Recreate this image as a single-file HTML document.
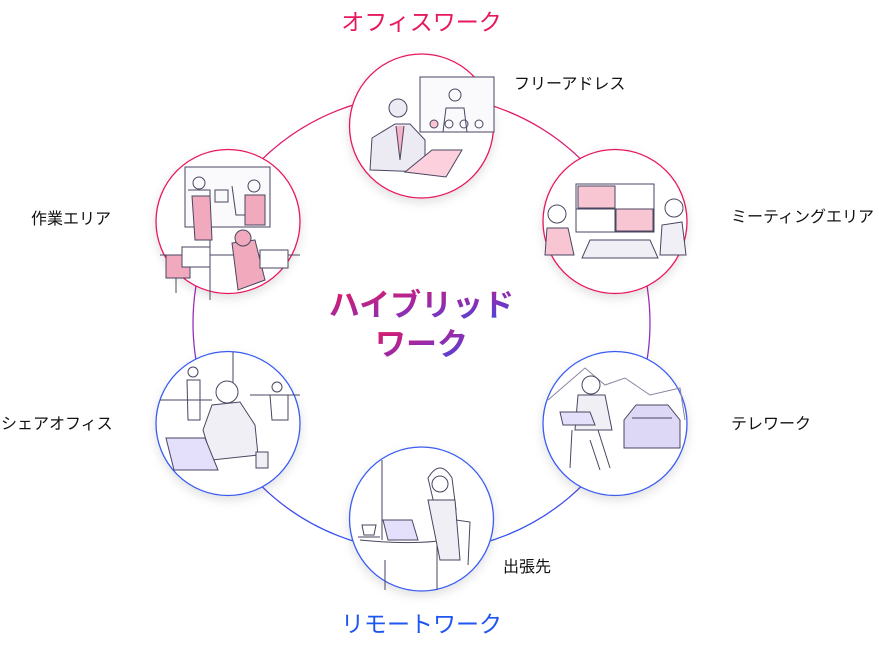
<!DOCTYPE html>
<html><head><meta charset="utf-8"><style>
html,body{margin:0;padding:0;background:#fff;}
body{width:879px;height:651px;position:relative;overflow:hidden;font-family:"Liberation Sans","Noto Sans CJK JP",sans-serif;}
.l{position:absolute;font-size:16px;color:#111;white-space:nowrap;line-height:1;}
</style></head><body>
<svg width="879" height="651" style="position:absolute;left:0;top:0">
<defs>
<linearGradient id="ring" x1="0" y1="0" x2="0" y2="1">
<stop offset="0" stop-color="#e8185f"/><stop offset="0.5" stop-color="#9a2fb8"/><stop offset="1" stop-color="#2a55f5"/>
</linearGradient>
<linearGradient id="tg" x1="0" y1="0" x2="1" y2="1">
<stop offset="0" stop-color="#e8185f"/><stop offset="0.5" stop-color="#9a2aa8"/><stop offset="1" stop-color="#3a4ae8"/>
</linearGradient>
<filter id="sh" x="-30%" y="-30%" width="160%" height="160%"><feDropShadow dx="0" dy="4" stdDeviation="5" flood-color="#000" flood-opacity="0.12"/></filter>
</defs>
<circle cx="421.5" cy="323" r="228.5" fill="none" stroke="url(#ring)" stroke-width="1.3"/>
<g stroke-width="1.3" filter="url(#sh)">
<circle cx="421.5" cy="126" r="72" fill="#fff" stroke="#e8185f"/>
<circle cx="228" cy="221.5" r="72" fill="#fff" stroke="#e8185f"/>
<circle cx="615" cy="221.5" r="72" fill="#fff" stroke="#e8185f"/>
<circle cx="228" cy="423.5" r="72" fill="#fff" stroke="#3a5cf2"/>
<circle cx="615" cy="423.5" r="72" fill="#fff" stroke="#3a5cf2"/>
<circle cx="421.5" cy="519" r="72" fill="#fff" stroke="#3a5cf2"/>
</g>
<g stroke="#4a4660" stroke-width="1" fill="none">
<rect x="420" y="77" width="74" height="55" fill="#fafafc"/>
<circle cx="455" cy="95" r="6"/><path d="M443 132 L446 108 L464 108 L467 132"/>
<circle cx="434" cy="124" r="4" fill="#f9c5d4"/><circle cx="449" cy="124" r="4"/><circle cx="464" cy="124" r="4"/><circle cx="479" cy="124" r="4"/>
<circle cx="398" cy="108" r="9" fill="#eceaf2"/>
<path d="M370 170 L372 138 L395 124 L410 124 L425 140 L425 172 Z" fill="#eceaf2"/>
<path d="M396 126 L400 160 L404 126" fill="#f6b3c6"/>
<path d="M405 172 L432 150 L462 150 L446 177 Z" fill="#fcd0dc"/>
<rect x="185" y="167" width="85" height="60" fill="#fafafc"/>
<path d="M188 190 L210 190 L210 300 M232 186 L236 215 L252 215" />
<path d="M192 196 L210 196 L212 240 L195 240 Z" fill="#f1a9bd"/>
<path d="M245 195 L265 195 L265 225 L245 225 Z" fill="#f1a9bd"/>
<circle cx="199" cy="183" r="6"/><circle cx="254" cy="186" r="6"/>
<rect x="215" y="190" width="13" height="12"/>
<path d="M160 255 L300 255 M176 260 L176 293"/>
<path d="M166 255 L190 255 L190 278 L166 278 Z" fill="#f1a9bd"/>
<path d="M232 243 L255 240 L265 280 L238 290 Z" fill="#f1a9bd"/>
<circle cx="243" cy="238" r="8" fill="#f1a9bd"/>
<rect x="182" y="247" width="28" height="20" fill="#fff"/><rect x="260" y="250" width="28" height="18" fill="#fff"/>
<rect x="576" y="184" width="78" height="48" fill="#fff"/>
<rect x="578" y="186" width="37" height="22" fill="#f8c5d3"/><rect x="616" y="209" width="37" height="22" fill="#f8c5d3"/>
<path d="M615 186 V232 M576 209 H654"/>
<circle cx="557" cy="214" r="9"/><path d="M545 255 L547 228 L568 228 L574 255 Z" fill="#f8c5d3"/>
<circle cx="674" cy="208" r="9"/><path d="M660 255 L662 225 L682 222 L686 255 Z" fill="#f1eff6"/>
<path d="M590 240 L650 240 L658 258 L582 258 Z" fill="#f1eff6"/>
<path d="M233 352 V400 M160 400 H212 M250 395 H300"/>
<circle cx="193" cy="372" r="5"/><path d="M187 380 L200 380 L200 420 L188 420 Z"/>
<circle cx="227" cy="392" r="11" fill="#fff"/>
<path d="M203 430 L212 405 L240 402 L255 425 L258 455 L212 460 Z" fill="#f0eff5"/>
<path d="M166 438 L205 438 L218 470 L174 470 Z" fill="#e4e0fb"/>
<rect x="256" y="452" width="12" height="16" fill="#f0eff5"/>
<circle cx="277" cy="387" r="5"/><path d="M270 395 H288 V420 H272 Z"/>
<path d="M548 400 L585 368 L605 385 L625 378 L650 395 L680 388 L685 420" stroke="#8a86a0"/>
<circle cx="591" cy="385" r="9" fill="#fff"/>
<path d="M578 395 L605 395 L612 430 L575 430 Z" fill="#f0eff5"/>
<path d="M560 412 L590 412 L595 425 L563 425 Z" fill="#e4e0fb"/>
<path d="M572 430 L570 468 M598 430 L610 468 M590 440 L600 470"/>
<path d="M624 420 L636 405 L668 405 L680 420 L680 448 L624 448 Z" fill="#dcd8f5"/>
<path d="M632 418 L672 418"/>
<path d="M382 460 V540 M360 540 Q420 546 458 538 M437 540 V590 M385 560 V590"/>
<path d="M428 478 Q440 458 452 478 L456 510 L436 512 Z" fill="#fff"/>
<circle cx="440" cy="484" r="8" fill="#fff"/>
<path d="M428 500 L455 500 L460 560 L440 560 Z" fill="#f0eff5"/>
<path d="M383 520 L412 520 L418 540 L388 540 Z" fill="#e4e0fb"/>
<path d="M362 525 L376 525 L374 535 L364 535 Z"/><path d="M358 537 H380"/>
<path d="M456 520 L470 522 L468 565"/>
</g>
<text x="421.5" y="316" text-anchor="middle" font-size="31" font-weight="bold" fill="url(#tg)" font-family="Liberation Sans,Noto Sans CJK JP,sans-serif">ハイブリッド</text>
<text x="421.5" y="355" text-anchor="middle" font-size="31" font-weight="bold" fill="url(#tg)" font-family="Liberation Sans,Noto Sans CJK JP,sans-serif">ワーク</text>
<text x="421.5" y="30" text-anchor="middle" font-size="23" fill="#e8185f" font-family="Liberation Sans,Noto Sans CJK JP,sans-serif">オフィスワーク</text>
<text x="421.5" y="632" text-anchor="middle" font-size="23" fill="#1f55f0" font-family="Liberation Sans,Noto Sans CJK JP,sans-serif">リモートワーク</text>
</svg>
<div class="l" style="left:514px;top:77px">フリーアドレス</div>
<div class="l" style="left:731px;top:210px">ミーティングエリア</div>
<div class="l" style="left:731px;top:417px">テレワーク</div>
<div class="l" style="left:503px;top:560px">出張先</div>
<div class="l" style="left:31px;top:212px">作業エリア</div>
<div class="l" style="left:1px;top:417px">シェアオフィス</div>
</body></html>
